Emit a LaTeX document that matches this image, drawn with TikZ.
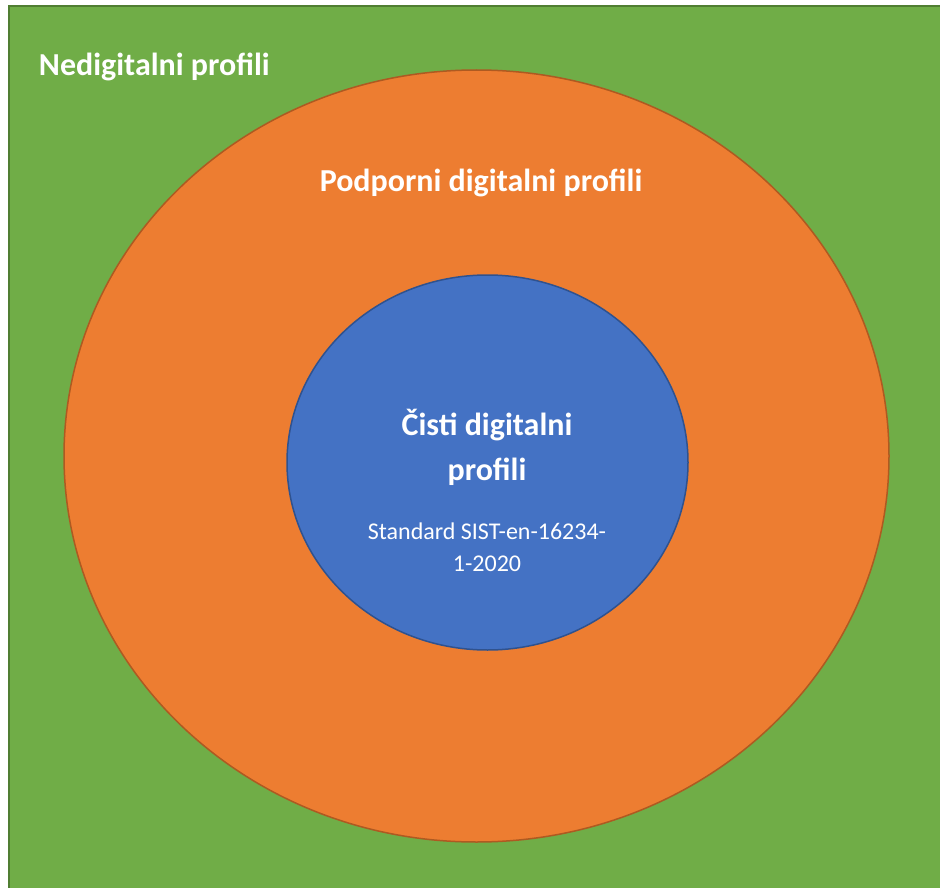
\documentclass[tikz,border=0pt]{standalone}
\usepackage{fontspec}
\setmainfont{Carlito}
\definecolor{nedigGreen}{RGB}{112,173,71}
\definecolor{nedigEdge}{RGB}{80,126,50}
\definecolor{podpOrange}{RGB}{237,125,49}
\definecolor{podpEdge}{RGB}{174,90,33}
\definecolor{cistBlue}{RGB}{68,114,196}
\definecolor{cistEdge}{RGB}{47,82,143}

\begin{document}
\begin{tikzpicture}[x=1pt,y=1pt,yscale=-1,xscale=1]
\useasboundingbox (0,0) rectangle (940,888);

%Shape: Rectangle [id:nedig]
\draw [draw=nedigEdge, line width=2.5, fill=nedigGreen] (9,6) rectangle (945,895);
%Shape: Ellipse [id:podp]
\draw [draw=podpEdge, line width=1.5, fill=podpOrange] (476.5,456) ellipse [x radius=412.5, y radius=386];
%Shape: Ellipse [id:cist]
\draw [draw=cistEdge, line width=1.5, fill=cistBlue] (487.5,462.5) ellipse [x radius=200.5, y radius=187.5];

% Text Node
\draw (38,67) node [anchor=west] [inner sep=0.75pt, text=white, font=\bfseries\fontsize{32}{38}\selectfont] (nedigLabel) {Nedigitalni profili};
% Text Node
\draw (481,183) node [inner sep=0.75pt, text=white, font=\bfseries\fontsize{32}{38}\selectfont] (podpLabel) {Podporni digitalni profili};
% Text Node
\draw (487,447.5) node [inner sep=0.75pt, text=white, align=center, font=\bfseries\fontsize{32}{45}\selectfont] (cistLabel) {Čisti digitalni\\profili};
% Text Node
\draw (487,547) node [inner sep=0.75pt, text=white, align=center, font=\fontsize{24}{32}\selectfont] (stdLabel) {Standard SIST-en-16234-\\1-2020};

\end{tikzpicture}
\end{document}
